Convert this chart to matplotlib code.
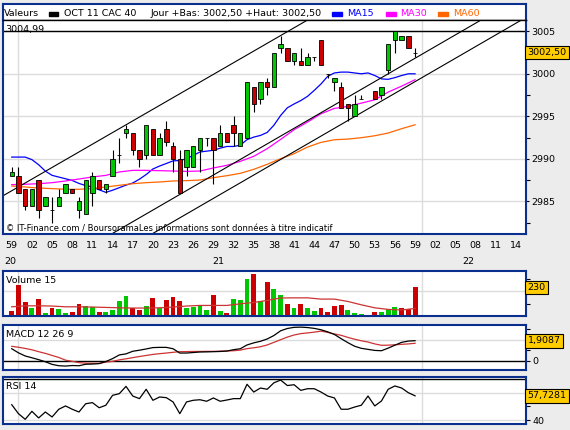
import numpy as np
import matplotlib
matplotlib.use('Agg')
import matplotlib.pyplot as plt
from matplotlib.transforms import blended_transform_factory as blend

nan = float('nan')

# bougies 1 minute, 20:59 -> 21:59 (index 0 = 20:59)
opens = [2988.0, 2988.0, 2986.5, 2984.5, 2987.5, 2984.5, 2984.0, 2984.5, 2986.0, 2986.5,
         2984.0, 2983.5, 2986.0, 2987.5, 2986.5, 2988.0, 2990.5, 2993.0, 2993.0, 2991.0,
         2990.5, 2993.5, 2990.5, 2993.5, 2991.5, 2990.0, 2989.0, 2989.0, 2991.0, 2992.5,
         2992.5, 2991.5, 2993.0, 2994.0, 2991.5, 2992.5, 2998.5, 2997.0, 2999.0, 2998.5,
         3003.0, 3003.0, 3001.5, 3001.5, 3001.0, 3002.0, 3004.0, 3000.0, 2999.0, 2998.5,
         2996.5, 2995.0, 2997.0, nan, 2998.0, 2997.5, 3000.5, 3004.0, 3004.0, 3004.5, 3002.5]
highs = [2989.0, 2989.0, 2986.5, 2986.5, 2987.5, 2985.5, 2985.5, 2986.5, 2987.0, 2986.5,
         2985.5, 2987.5, 2988.5, 2987.5, 2987.0, 2991.0, 2992.5, 2994.0, 2993.0, 2991.0,
         2994.0, 2993.5, 2993.0, 2994.5, 2992.0, 2991.0, 2991.0, 2991.5, 2992.5, 2992.5,
         2992.5, 2994.0, 2993.0, 2995.0, 2993.0, 2999.0, 2998.5, 2999.0, 2999.5, 3002.5,
         3004.5, 3003.0, 3002.5, 3003.0, 3002.5, 3002.0, 3004.0, 3000.0, 2999.5, 2999.0,
         2996.5, 2997.5, 2997.5, nan, 2998.0, 2998.5, 3003.5, 3004.99, 3004.5, 3004.5, 3003.0]
lows = [2988.0, 2986.0, 2984.0, 2984.5, 2983.0, 2984.5, 2982.5, 2984.5, 2986.0, 2986.0,
        2983.0, 2983.5, 2984.5, 2986.5, 2986.0, 2988.0, 2989.5, 2992.5, 2990.5, 2989.0,
        2990.0, 2990.5, 2990.5, 2991.5, 2988.5, 2986.0, 2988.0, 2989.0, 2988.5, 2991.5,
        2987.0, 2991.5, 2992.0, 2991.5, 2991.5, 2992.5, 2995.5, 2996.5, 2997.5, 2998.5,
        3002.5, 3001.5, 3001.0, 3001.0, 3001.0, 3001.5, 3001.0, 2999.5, 2998.0, 2996.0,
        2994.5, 2995.0, 2997.0, nan, 2997.0, 2997.0, 3000.0, 3002.5, 3004.0, 3003.0, 3002.0]
closes = [2988.5, 2986.0, 2984.5, 2986.5, 2984.0, 2985.5, 2984.0, 2985.5, 2987.0, 2986.0,
          2985.0, 2987.5, 2988.0, 2986.5, 2987.0, 2990.0, 2990.5, 2993.5, 2991.0, 2990.0,
          2994.0, 2990.5, 2992.5, 2992.0, 2990.0, 2986.0, 2991.0, 2991.5, 2992.5, 2992.5,
          2991.0, 2993.0, 2992.0, 2993.0, 2993.0, 2999.0, 2996.5, 2999.0, 2998.5, 3002.5,
          3003.5, 3001.5, 3002.5, 3001.0, 3002.0, 3002.0, 3001.0, 3000.0, 2999.5, 2996.0,
          2996.0, 2996.5, 2997.0, nan, 2997.0, 2998.5, 3003.5, 3004.99, 3004.5, 3003.0, 3002.5]
plus_haut = 3004.99

ma15 = [2990.2, 2990.2, 2990.2, 2989.9, 2989.3, 2988.55, 2988.05, 2987.85, 2987.65, 2987.45,
        2987.1, 2986.85, 2986.7, 2986.35, 2986.05, 2986.3, 2986.6, 2986.9, 2987.15, 2987.6,
        2988.15, 2988.8, 2989.15, 2989.45, 2989.75, 2989.8, 2990.0, 2990.4, 2990.8, 2990.9,
        2991.0, 2991.25, 2991.45, 2991.45, 2991.6, 2992.25, 2992.55, 2992.75, 2993.1, 2993.95,
        2995.1, 2996.0, 2996.45, 2996.85, 2997.35, 2998.05, 2998.8, 2999.7, 3000.1, 3000.2,
        3000.2, 3000.1, 3000.0, 3000.1, 2999.8, 2999.4, 2999.35, 2999.55, 2999.8, 3000.0, 3000.0]
ma_t = list(range(0, 61, 2))
ma30 = [2986.96, 2987.0, 2987.07, 2987.19, 2987.39, 2987.62, 2987.86, 2988.05, 2988.45, 2988.64,
        2988.64, 2988.6, 2988.56, 2988.52, 2988.56, 2988.92, 2989.23, 2989.7, 2990.29, 2991.19,
        2992.28, 2993.42, 2994.32, 2995.3, 2995.93, 2996.16, 2996.55, 2996.94, 2997.85, 2998.55,
        2999.3]
ma60 = [2986.8, 2986.68, 2986.56, 2986.49, 2986.41, 2986.41, 2986.49, 2986.68, 2986.88, 2987.07,
        2987.19, 2987.27, 2987.39, 2987.43, 2987.5, 2987.78, 2988.01, 2988.29, 2988.76, 2989.35,
        2990.01, 2990.6, 2991.38, 2991.93, 2992.24, 2992.32, 2992.48, 2992.71, 2993.03, 2993.54,
        2994.0]

# canal de tendance : deux points par droite (minute, cours)
canal = [((17, 2994.0), (40, 3004.5)),
         ((25, 2985.8), (56, 3000.0)),
         ((50, 2994.5), (75, 3005.95))]

volumes = [37, 253, 109, 66, 138, 21, 66, 58, 21, 29,
           93, 77, 72, 29, 29, 45, 117, 157, 66, 45,
           82, 146, 61, 130, 149, 117, 61, 69, 77, 45,
           165, 37, 21, 138, 130, 298, 341, 117, 277, 221,
           170, 98, 66, 98, 66, 42, 66, 34, 82, 90,
           50, 26, 18, 10, 34, 34, 58, 74, 66, 58, 230]
# u = hausse (vert), d = baisse (rouge)
vol_sens = ("dddududuud" "duuduuuudd" "ududdduuuu" "duduuududu"
            "ududuudddd" "uuuuduuuddd")
vol_ma15 = [74, 82, 82, 80, 74, 74, 72, 69, 66, 64, 64, 66, 72, 80, 85, 85,
            85, 98, 109, 125, 145, 146, 146, 136, 136, 117, 90, 66, 53, 48, 61]

macd = [1.14, 0.75, 0.45, 0.28, 0.1, -0.1, -0.35, -0.48, -0.51, -0.46,
        -0.48, -0.34, -0.32, -0.28, -0.08, 0.2, 0.55, 0.65, 0.9, 1.0,
        1.12, 1.25, 1.27, 1.27, 1.14, 0.73, 0.73, 0.78, 0.83, 0.84,
        0.86, 0.88, 0.92, 1.05, 1.14, 1.5, 1.7, 1.85, 2.07, 2.4,
        2.85, 3.07, 3.18, 3.2, 3.16, 3.08, 2.95, 2.75, 2.5, 2.1,
        1.72, 1.38, 1.18, 1.08, 0.98, 0.95, 1.2, 1.48, 1.75, 1.87, 1.9087]
signal = [1.37, 1.28, 1.17, 1.04, 0.86, 0.7, 0.5, 0.31, 0.05, -0.06,
          -0.18, -0.24, -0.25, -0.25, -0.13, -0.06, 0.08, 0.18, 0.29, 0.4,
          0.5, 0.6, 0.67, 0.73, 0.8, 0.86, 0.87, 0.88, 0.88, 0.89,
          0.89, 0.91, 0.93, 0.95, 1.01, 1.15, 1.23, 1.33, 1.5, 1.75,
          2.0, 2.25, 2.45, 2.58, 2.65, 2.72, 2.82, 2.7, 2.55, 2.42,
          2.22, 2.05, 1.9, 1.78, 1.6, 1.47, 1.48, 1.52, 1.56, 1.6, 1.66]
rsi = [51.3, 44.8, 40.7, 46.5, 41.7, 46.0, 42.4, 48.0, 50.4, 48.0,
       46.0, 52.0, 52.8, 49.1, 50.9, 58.1, 59.3, 64.6, 57.6, 55.7,
       62.5, 54.5, 56.9, 56.4, 53.3, 44.8, 53.3, 54.5, 54.9, 53.8,
       56.2, 53.8, 54.7, 55.7, 55.7, 66.1, 60.5, 63.4, 62.5, 67.2,
       69.2, 65.2, 65.8, 61.7, 62.9, 62.9, 60.5, 57.6, 56.2, 48.0,
       48.0, 49.6, 50.9, 57.6, 50.4, 54.0, 62.5, 64.9, 63.4, 60.0, 57.7281]

W, H = 570, 430
BORD = '#0b2f8f'
GRILLE = '#dcdcdc'
VERT = '#00c800'
ROUGE = '#cc0000'
FS = 6.8
plt.rcParams['font.family'] = 'DejaVu Sans'


def zone(x0, y0, x1, y1):
    return [x0 / W, 1 - y1 / H, (x1 - x0) / W, (y1 - y0) / H]


def fmt(v, nd):
    return f"{v:.{nd}f}".replace('.', ',')


fig = plt.figure(figsize=(W / 100, H / 100), dpi=100, facecolor='#ececec')
t = np.arange(len(closes))
xmin, xmax = -1.3, 76.5
heures = [1, 61]


def panneau(rect):
    ax = fig.add_axes(zone(*rect))
    ax.set_facecolor('white')
    for s in ax.spines.values():
        s.set_color(BORD)
        s.set_linewidth(1.5)
    ax.set_xlim(xmin, xmax)
    for h in heures:
        ax.axvline(h, color=GRILLE, lw=1, zorder=0)
    ax.tick_params(axis='x', length=0, labelbottom=False)
    ax.yaxis.tick_right()
    ax.tick_params(axis='y', which='both', length=3, width=0.8, pad=1.5, labelsize=FS)
    return ax


def etiquette(ax, y, s):
    ax.text(1.003, y, s, transform=blend(ax.transAxes, ax.transData), ha='left', va='center',
            fontsize=FS, bbox=dict(boxstyle='square,pad=0.25', fc='#ffcc00', ec='black', lw=0.8),
            clip_on=False)


# ---- entete
hd = fig.add_axes(zone(3, 3.5, 526, 20))
hd.set_xticks([])
hd.set_yticks([])
for s in hd.spines.values():
    s.set_color(BORD)
    s.set_linewidth(1.5)
hd.spines['bottom'].set_color('black')
hd.spines['bottom'].set_linewidth(1)


def ftext(xp, yp, s, **kw):
    fig.text(xp / W, 1 - yp / H, s, va='center', fontsize=FS, **kw)


def carre(x0, x1, col):
    fig.add_artist(plt.Rectangle((x0 / W, 1 - 15.5 / H), (x1 - x0) / W, 3.5 / H,
                                 transform=fig.transFigure, color=col))


ftext(4.4, 13.2, 'Valeurs')
carre(49, 58, 'black')
ftext(64.5, 13.2, 'OCT 11 CAC 40')
ftext(151, 13.2, f'Jour +Bas: {fmt(closes[-1], 2)} +Haut: {fmt(closes[-1], 2)}')
for x0, nom, col in [(332, 'MA15', '#0000ff'), (385.5, 'MA30', '#ff00ff'), (438, 'MA60', '#ff6600')]:
    carre(x0, x0 + 10, col)
    ftext(x0 + 15, 13.2, nom, color=col)

# ---- cours
ax = panneau((3, 20, 526, 234))
ax.spines['top'].set_color('black')
ax.spines['top'].set_linewidth(1)
ax.set_ylim(2981.15, 3006.33)
ax.set_yticks(np.arange(2985, 3006, 5))
ax.set_yticklabels([f'{v:d}' for v in range(2985, 3006, 5)])
ax.set_yticks(np.arange(2982.5, 3005, 5), minor=True)
ax.tick_params(axis='y', which='major', length=2)
for v in range(2985, 3006, 5):
    ax.axhline(v, color=GRILLE, lw=1, zorder=0)
ax.axhline(plus_haut, color='black', lw=1, zorder=2)
ax.text(0.005, 0.975, fmt(plus_haut, 2), transform=ax.transAxes, fontsize=FS, va='top')

ax.plot(t, ma15, color='#0000ff', lw=0.9, zorder=2)
ax.plot(ma_t, ma30, color='#ff00ff', lw=0.9, zorder=2)
ax.plot(ma_t, ma60, color='#ff6600', lw=0.9, zorder=2)
for p1, p2 in canal:
    ax.axline(p1, p2, color='black', lw=0.8, zorder=2)

o = np.array(opens)
c = np.array(closes)
ok = ~np.isnan(o)
ax.vlines(t[ok], np.array(lows)[ok], np.array(highs)[ok], color='black', lw=0.8, zorder=3)
ax.bar(t[ok], (c - o)[ok], bottom=o[ok], width=0.64,
       color=np.where(c[ok] >= o[ok], VERT, ROUGE), edgecolor='black', linewidth=0.6, zorder=4)

ax.set_xticks(np.arange(0, 76, 3))
ax.set_xticklabels([f'{(59 + m) % 60:02d}' for m in range(0, 76, 3)])
ax.tick_params(axis='x', labelbottom=True, labelsize=FS, pad=5)
for lab, pos in [('20', (xmin + heures[0]) / 2), ('21', (heures[0] + heures[1]) / 2 - 0.3),
                 ('22', (heures[1] + 74.8) / 2)]:
    ax.text(pos, -27 / 214, lab, transform=blend(ax.transData, ax.transAxes), ha='center',
            va='center', fontsize=FS, clip_on=False)
ax.text(0.006, 5 / 214, '\u00a9 IT-Finance.com / BoursoramaLes informations sont données à titre indicatif',
        transform=ax.transAxes, fontsize=6.0, va='center')
etiquette(ax, closes[-1], fmt(closes[-1], 2))

# ---- volume
av = panneau((3, 271, 526, 316))
av.set_ylim(0, 362)
av.set_yticks([100, 200, 300])
av.set_yticklabels([])
av.axhline(200, color=GRILLE, lw=1, zorder=0)
av.bar(t, volumes, width=0.72, color=[VERT if s == 'u' else ROUGE for s in vol_sens], zorder=2)
av.plot(ma_t, vol_ma15, color='#cc3333', lw=0.9, zorder=3)
av.text(0.006, 0.78, 'Volume 15', transform=av.transAxes, fontsize=FS, va='center')
etiquette(av, volumes[-1], f'{volumes[-1]}')

# ---- MACD
am = panneau((3, 324.5, 526, 370))
am.set_ylim(-0.886, 3.45)
am.set_yticks([0, 1, 2, 3])
am.set_yticklabels(['0', '', '', ''])
am.axhline(2, color=GRILLE, lw=1, zorder=0)
am.axhline(0, color='black', lw=1, zorder=1)
am.plot(t, signal, color='#cc3333', lw=0.9, zorder=2)
am.plot(t, macd, color='black', lw=0.9, zorder=3)
am.text(0.006, 0.78, 'MACD 12 26 9', transform=am.transAxes, fontsize=FS, va='center')
etiquette(am, macd[-1], fmt(macd[-1], 4))

# ---- RSI
ar = panneau((3, 377, 526, 424))
ar.set_ylim(37.3, 71.4)
ar.set_yticks([40, 50, 60])
ar.set_yticklabels(['40', '', ''])
for v in (40, 60):
    ar.axhline(v, color=GRILLE, lw=1, zorder=0)
ar.axhline(70, color='black', lw=1, zorder=1)
ar.plot(t, rsi, color='black', lw=0.9, zorder=2)
ar.text(0.006, 0.8, 'RSI 14', transform=ar.transAxes, fontsize=FS, va='center')
etiquette(ar, rsi[-1], fmt(rsi[-1], 4))

fig.savefig('out.png', dpi=100, facecolor=fig.get_facecolor())
